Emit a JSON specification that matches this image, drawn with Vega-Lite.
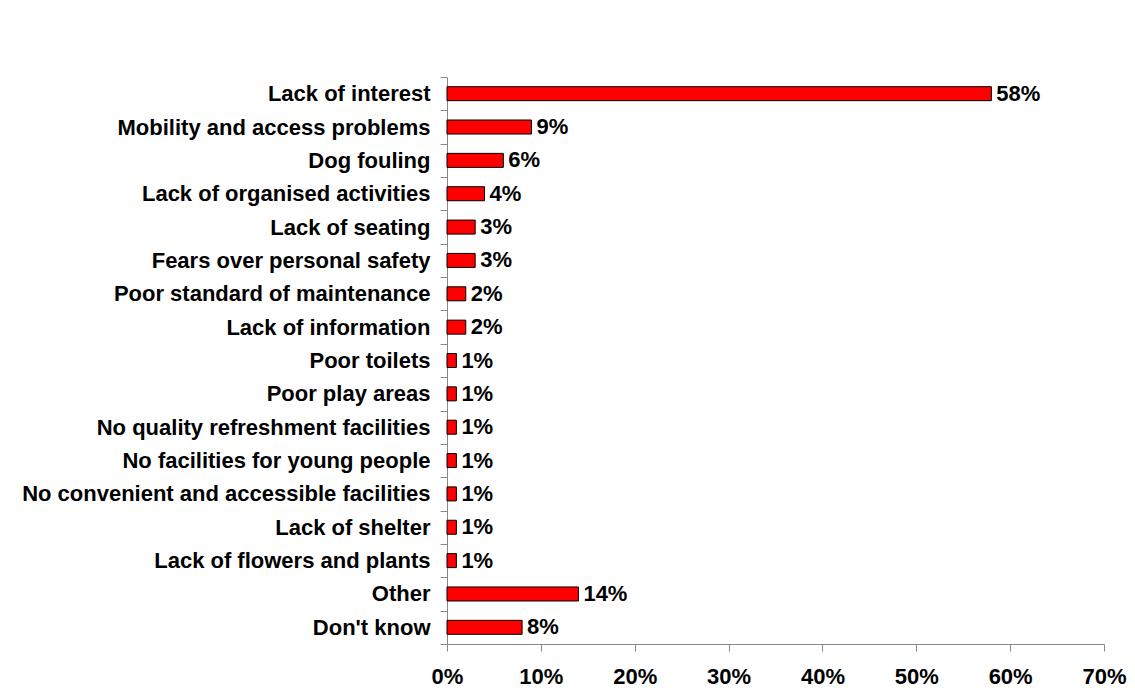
{
  "$schema": "https://vega.github.io/schema/vega-lite/v6.json",
  "width": 657,
  "height": 567,
  "autosize": {"type": "none"},
  "padding": {"left": 447, "top": 77, "right": 31, "bottom": 54},
  "background": "white",
  "data": {
    "values": [
      {"reason": "Lack of interest", "pct": 0.58},
      {"reason": "Mobility and access problems", "pct": 0.09},
      {"reason": "Dog fouling", "pct": 0.06},
      {"reason": "Lack of organised activities", "pct": 0.04},
      {"reason": "Lack of seating", "pct": 0.03},
      {"reason": "Fears over personal safety", "pct": 0.03},
      {"reason": "Poor standard of maintenance", "pct": 0.02},
      {"reason": "Lack of information", "pct": 0.02},
      {"reason": "Poor toilets", "pct": 0.01},
      {"reason": "Poor play areas", "pct": 0.01},
      {"reason": "No quality refreshment facilities", "pct": 0.01},
      {"reason": "No facilities for young people", "pct": 0.01},
      {"reason": "No convenient and accessible facilities", "pct": 0.01},
      {"reason": "Lack of shelter", "pct": 0.01},
      {"reason": "Lack of flowers and plants", "pct": 0.01},
      {"reason": "Other ", "pct": 0.14},
      {"reason": "Don't know", "pct": 0.08}
    ]
  },
  "encoding": {
    "y": {
      "field": "reason",
      "type": "nominal",
      "sort": null,
      "scale": {"paddingInner": 0, "paddingOuter": 0},
      "axis": {
        "title": null,
        "tickBand": "extent",
        "tickSize": 7,
        "labelPadding": 10,
        "labelFont": "Liberation Sans",
        "labelFontWeight": "bold",
        "labelFontSize": 22,
        "labelColor": "black",
        "domainColor": "#888888",
        "tickColor": "#888888",
        "labelLimit": 1000
      }
    },
    "x": {
      "field": "pct",
      "type": "quantitative",
      "scale": {"domain": [0, 0.7], "nice": false},
      "axis": {
        "title": null,
        "format": ".0%",
        "values": [0, 0.1, 0.2, 0.3, 0.4, 0.5, 0.6, 0.7],
        "grid": false,
        "tickSize": 7,
        "labelPadding": 15,
        "labelFont": "Liberation Sans",
        "labelFontWeight": "bold",
        "labelFontSize": 22,
        "labelColor": "black",
        "domainColor": "#888888",
        "tickColor": "#888888",
        "labelFlush": false,
        "labelOverlap": false
      }
    }
  },
  "layer": [
    {
      "mark": {"type": "bar", "height": {"band": 0.42}, "color": "#ff0000", "stroke": "black", "strokeWidth": 1}
    },
    {
      "mark": {"type": "text", "align": "left", "baseline": "middle", "dx": 5, "font": "Liberation Sans", "fontWeight": "bold", "fontSize": 22, "color": "black"},
      "encoding": {"text": {"field": "pct", "type": "quantitative", "format": ".0%"}}
    }
  ],
  "config": {"view": {"stroke": null}}
}
